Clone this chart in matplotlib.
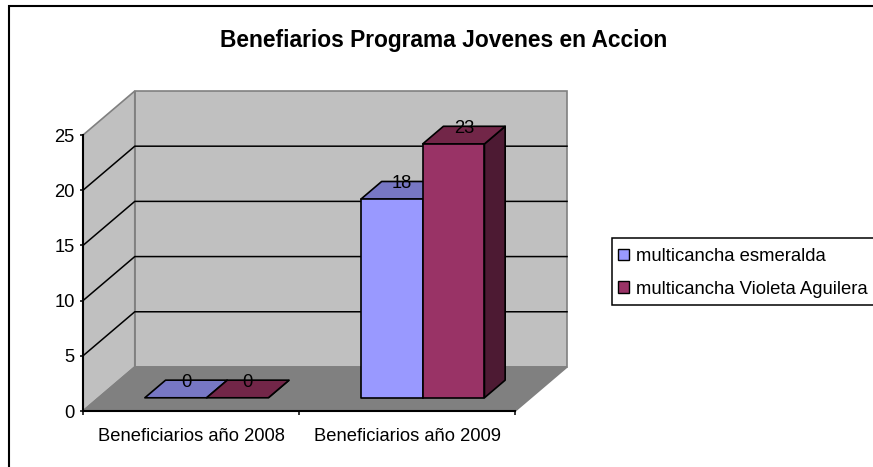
import numpy as np
import matplotlib
matplotlib.use("Agg")
import matplotlib.pyplot as plt
from matplotlib.patches import Polygon, Rectangle, Patch

plt.rcParams["font.family"] = ["Liberation Sans", "DejaVu Sans"]

title = "Benefiarios Programa Jovenes en Accion"
categories = ["Beneficiarios año 2008", "Beneficiarios año 2009"]
series_names = ["multicancha esmeralda", "multicancha Violeta Aguilera"]
esmeralda = [0, 18]
violeta = [0, 23]
y_ticks = [0, 5, 10, 15, 20, 25]

W, H = 873, 467

# oblique depth of the fake 3d box, in data units
depth_x = 0.2396
depth_y = 3.99
bar_w = 0.2857
z_front, z_back = 0.3, 0.7
font_size = 13.2

colors = [("#9999FF", "#7777C4", "#4F4F85"), ("#993366", "#722648", "#4D1A33")]


def px_box(x0, y_top, x1, y_bot):
    return [x0 / W, 1 - y_bot / H, (x1 - x0) / W, (y_bot - y_top) / H]


def shift(x, y, z):
    return x + depth_x * z, y + depth_y * z


def draw_bar(ax, x0, val, cols):
    x1 = x0 + bar_w
    fl = shift(x0, 0, z_front)
    fr = shift(x1, 0, z_front)
    tl = shift(x0, val, z_front)
    tr = shift(x1, val, z_front)
    br = shift(x1, 0, z_back)
    tbl = shift(x0, val, z_back)
    tbr = shift(x1, val, z_back)
    kw = dict(edgecolor="black", linewidth=1.2, joinstyle="round", zorder=5, clip_on=False)
    ax.add_patch(Polygon([fr, br, tbr, tr], facecolor=cols[2], **kw))
    ax.add_patch(Polygon([tl, tr, tbr, tbl], facecolor=cols[1], **kw))
    if val > 0:
        ax.add_patch(Polygon([fl, fr, tr, tl], facecolor=cols[0], **kw))
    # label sits mid depth in x but on the back edge in y
    lx = shift(x0 + bar_w / 2, val, 0.5)[0]
    ly = shift(x0, val, z_back)[1]
    ax.text(lx, ly, str(val), ha="center", va="center_baseline", fontsize=font_size, color="black", zorder=7)


fig = plt.figure(figsize=(W / 100, H / 100), dpi=100, facecolor="white")
ax = fig.add_axes(px_box(83, 91, 567, 411))
ax.set_xlim(0, len(categories) + depth_x)
ax.set_ylim(0, y_ticks[-1] + depth_y)
ax.patch.set_visible(False)

n = len(categories)
top = y_ticks[-1]

# walls and floor
wall_kw = dict(edgecolor="#808080", linewidth=1.2, zorder=1, clip_on=False)
ax.add_patch(Polygon([shift(0, 0, 1), shift(n, 0, 1), shift(n, top, 1), shift(0, top, 1)], facecolor="#C0C0C0", **wall_kw))
ax.add_patch(Polygon([(0, 0), shift(0, 0, 1), shift(0, top, 1), (0, top)], facecolor="#C0C0C0", **wall_kw))
ax.add_patch(Polygon([(0, 0), (n, 0), shift(n, 0, 1), shift(0, 0, 1)], facecolor="#808080", **wall_kw))

# gridlines on side wall + back wall
for t in y_ticks[1:-1]:
    p0, p1, p2 = (0, t), shift(0, t, 1), shift(n, t, 1)
    ax.plot([p0[0], p1[0], p2[0]], [p0[1], p1[1], p2[1]], color="black", lw=1.1, zorder=2, clip_on=False)

# bars
for i in range(n):
    left = i + 0.5 - bar_w
    draw_bar(ax, left, esmeralda[i], colors[0])
    draw_bar(ax, left + bar_w, violeta[i], colors[1])

# axes
for s in ["top", "right"]:
    ax.spines[s].set_visible(False)
ax.spines["left"].set_bounds(0, top)
ax.spines["bottom"].set_bounds(0, n)
ax.spines["left"].set_linewidth(1.5)
ax.spines["bottom"].set_linewidth(1.5)
ax.spines["left"].set_zorder(4)
ax.spines["bottom"].set_zorder(4)
ax.set_yticks(y_ticks)
ax.set_xticks(np.arange(n + 1))
ax.set_xticklabels([])
ax.set_xticks(np.arange(n) + 0.5, minor=True)
ax.set_xticklabels(categories, minor=True)
ax.tick_params(axis="x", which="minor", length=0, pad=12.5, labelsize=font_size)
ax.tick_params(axis="x", which="major", length=3, width=1.1)
ax.tick_params(axis="y", length=2.5, width=1.1, pad=3.5, labelsize=font_size)

fig.text(444 / W, 1 - 40 / H, title, ha="center", va="center", fontsize=16.4, fontweight="bold")

# legend box runs off the right edge in the original, so frame it apart
fig.add_artist(Rectangle((612 / W, 1 - 305 / H), 1.0, 67 / H, transform=fig.transFigure,
                         facecolor="white", edgecolor="black", linewidth=1.1))
handles = [Patch(facecolor=colors[j][0], edgecolor="black", linewidth=1.0) for j in range(2)]
leg = fig.legend(handles, series_names, loc="upper left",
                 bbox_to_anchor=(618 / W, 1 - 248 / H), borderaxespad=0, borderpad=0,
                 fontsize=13.35, frameon=False,
                 handlelength=0.6, handleheight=0.6, handletextpad=0.38, labelspacing=0.85)
leg.set_zorder(6)

# outer chart frame, cut by the picture edge
fig.add_artist(Rectangle((9 / W, -0.05), 1.1, 1 - 6 / H + 0.05, transform=fig.transFigure,
                         fill=False, edgecolor="black", linewidth=1.5))

fig.savefig("out.png", dpi=100)
plt.close(fig)
